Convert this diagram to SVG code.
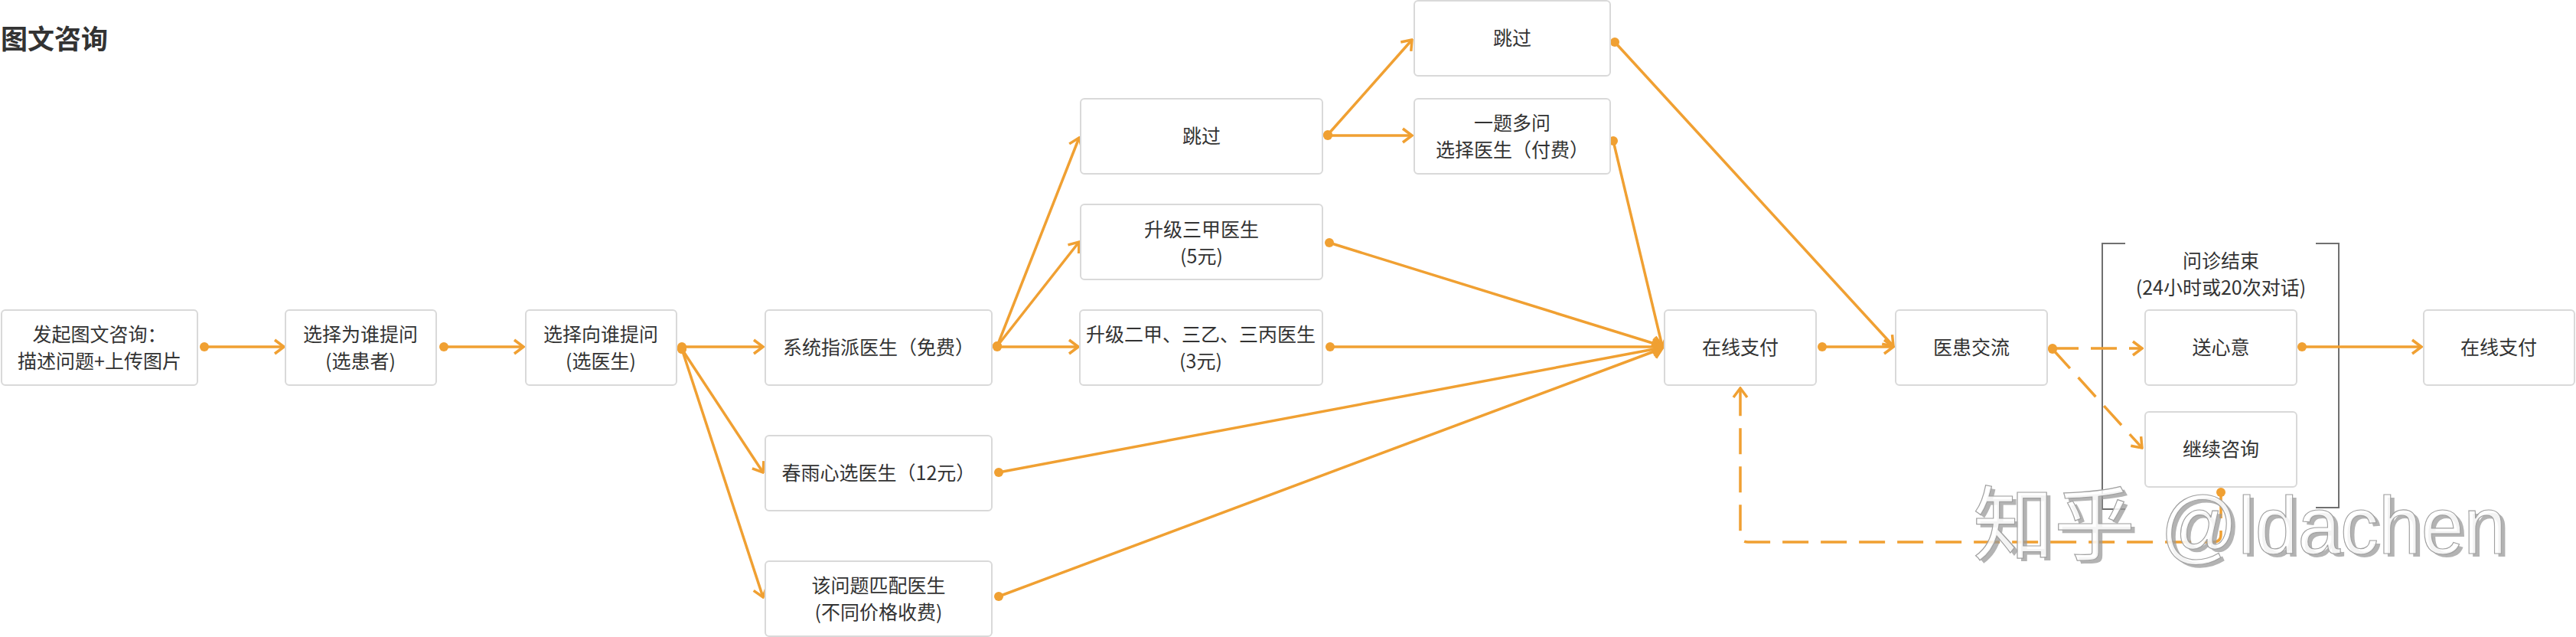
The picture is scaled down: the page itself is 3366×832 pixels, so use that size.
<svg xmlns="http://www.w3.org/2000/svg" width="3366" height="832" viewBox="0 0 3366 832">
<style>
.bg{fill:#ffffff}
.n rect{fill:#ffffff;stroke:#d9d9d9;stroke-width:2}
.t{font-family:"Noto Sans CJK SC","Noto Sans",sans-serif;font-size:25px;fill:#333333;text-anchor:middle}
.title{font-family:"Noto Sans CJK SC","Noto Sans",sans-serif;font-size:35px;font-weight:bold;fill:#333333}
.c{fill:none;stroke:#F0A032;stroke-width:3.5;marker-start:url(#dot);marker-end:url(#arr)}
.d{stroke-dasharray:34 16}
.br{fill:none;stroke:#707070;stroke-width:2}
.wm{font-size:106px}
</style>
<defs>
<marker id="arr" viewBox="0 0 16 22" refX="14" refY="11" markerWidth="16" markerHeight="22" markerUnits="userSpaceOnUse" orient="auto">
<path d="M2,2 L14,11 L2,20" fill="none" stroke="#F0A032" stroke-width="3.5"/>
</marker>
<marker id="dot" viewBox="0 0 14 14" refX="7" refY="7" markerWidth="14" markerHeight="14" markerUnits="userSpaceOnUse">
<circle cx="7" cy="7" r="6" fill="#F0A032"/>
</marker>
</defs>
<rect class="bg" x="0" y="0" width="3366" height="832"/>
<text class="title" x="1" y="64">图文咨询</text>

<g id="bracket">
<path class="br" d="M2777,318 H2747 V665 H2777"/>
<path class="br" d="M3026,318 H3056 V663 H3026"/>
<text class="t" x="2902" y="350">问诊结束</text>
<text class="t" x="2902" y="385">(24小时或20次对话)</text>
</g>

<g id="connectors">
<path class="c" d="M267,453 H371"/>
<path class="c" d="M580,453 H684"/>
<path class="c" d="M891,453 H997"/>
<path class="c" d="M891,456 L997,617"/>
<path class="c" d="M891,456 L997,780"/>
<path class="c" d="M1303,452 L1410,180"/>
<path class="c" d="M1303,452 L1410,316"/>
<path class="c" d="M1303,453 H1409"/>
<path class="c" d="M1735,176 L1845,52"/>
<path class="c" d="M1735,177 H1845"/>
<path class="c" d="M2110,55 L2474,452"/>
<path class="c" d="M2108,184 L2172,452"/>
<path class="c" d="M1737,317 L2172,452"/>
<path class="c" d="M1738,453 H2172"/>
<path class="c" d="M1305,617 L2172,454"/>
<path class="c" d="M1305,779 L2172,455"/>
<path class="c" d="M2381,453 H2474"/>
<path class="c d" d="M2682,455 H2799"/>
<path class="c d" d="M2682,456 L2799,585"/>
<path class="c" d="M3008,453 H3164"/>
<path class="c d" d="M2902,643 V698 Q2902,708 2892,708 H2284 Q2274,708 2274,698 V507"/>
</g>

<g id="n1" class="n"><rect x="2" y="405" width="256" height="98" rx="5"/>
<text class="t" x="130" y="446">发起图文咨询：</text><text class="t" x="130" y="481">描述问题+上传图片</text></g>
<g id="n2" class="n"><rect x="373" y="405" width="197" height="98" rx="5"/>
<text class="t" x="471" y="446">选择为谁提问</text><text class="t" x="471" y="481">(选患者)</text></g>
<g id="n3" class="n"><rect x="687" y="405" width="197" height="98" rx="5"/>
<text class="t" x="785" y="446">选择向谁提问</text><text class="t" x="785" y="481">(选医生)</text></g>
<g id="n4" class="n"><rect x="1000" y="405" width="296" height="98" rx="5"/>
<text class="t" x="1148" y="463">系统指派医生（免费）</text></g>
<g id="n5" class="n"><rect x="1411" y="405" width="317" height="98" rx="5"/>
<text class="t" x="1569" y="446">升级二甲、三乙、三丙医生</text><text class="t" x="1569" y="481">(3元)</text></g>
<g id="n6" class="n"><rect x="1000" y="569" width="296" height="98" rx="5"/>
<text class="t" x="1148" y="627">春雨心选医生（12元）</text></g>
<g id="n7" class="n"><rect x="1000" y="733" width="296" height="98" rx="5"/>
<text class="t" x="1148" y="774">该问题匹配医生</text><text class="t" x="1148" y="809">(不同价格收费)</text></g>
<g id="n8" class="n"><rect x="1412" y="129" width="316" height="98" rx="5"/>
<text class="t" x="1570" y="187">跳过</text></g>
<g id="n9" class="n"><rect x="1412" y="267" width="316" height="98" rx="5"/>
<text class="t" x="1570" y="309">升级三甲医生</text><text class="t" x="1570" y="344">(5元)</text></g>
<g id="n10" class="n"><rect x="1848" y="1" width="256" height="98" rx="5"/>
<text class="t" x="1976" y="59">跳过</text></g>
<g id="n11" class="n"><rect x="1848" y="129" width="256" height="98" rx="5"/>
<text class="t" x="1976" y="170">一题多问</text><text class="t" x="1976" y="205">选择医生（付费）</text></g>
<g id="n12" class="n"><rect x="2175" y="405" width="198" height="98" rx="5"/>
<text class="t" x="2274" y="463">在线支付</text></g>
<g id="n13" class="n"><rect x="2477" y="405" width="198" height="98" rx="5"/>
<text class="t" x="2576" y="463">医患交流</text></g>
<g id="n14" class="n"><rect x="2803" y="405" width="198" height="98" rx="5"/>
<text class="t" x="2902" y="463">送心意</text></g>
<g id="n15" class="n"><rect x="3167" y="405" width="197" height="98" rx="5"/>
<text class="t" x="3265" y="463">在线支付</text></g>
<g id="n16" class="n"><rect x="2803" y="538" width="198" height="98" rx="5"/>
<text class="t" x="2902" y="596">继续咨询</text></g>

<g id="watermark">
<text class="wm" x="2583" y="727" fill="#9a9a9a" fill-opacity="0.75" font-family="Noto Sans CJK SC, sans-serif">知乎</text>
<text class="wm" x="2828" y="727" fill="#9a9a9a" fill-opacity="0.75" font-family="Liberation Sans, sans-serif" textLength="452" lengthAdjust="spacingAndGlyphs">@ldachen</text>
<text class="wm" x="2578" y="723" fill="#ffffff" fill-opacity="0.85" stroke="#a0a0a0" stroke-width="1.2" font-family="Noto Sans CJK SC, sans-serif">知乎</text>
<text class="wm" x="2823" y="723" fill="#ffffff" fill-opacity="0.85" stroke="#a0a0a0" stroke-width="1.2" font-family="Liberation Sans, sans-serif" textLength="452" lengthAdjust="spacingAndGlyphs">@ldachen</text>
</g>
</svg>
